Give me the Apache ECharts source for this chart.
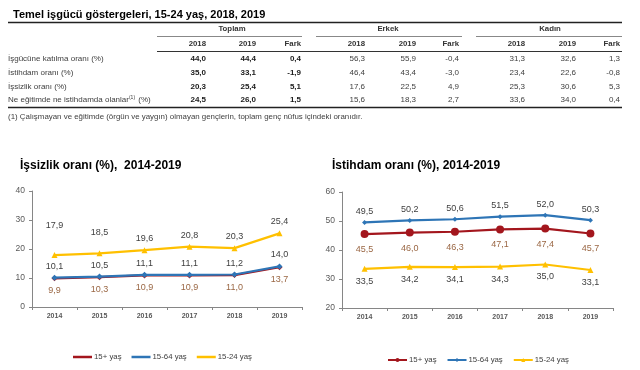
<!DOCTYPE html>
<html>
<head>
<meta charset="utf-8">
<script src="https://cdn.jsdelivr.net/npm/echarts@6/dist/echarts.min.js"></script>
<style>
html,body{margin:0;padding:0;background:#fff;}
#main{width:640px;height:370px;}
</style>
</head>
<body>
<div id="main"></div>
<script>
// ---- Table data ----
var tableTitle = 'Temel işgücü göstergeleri, 15-24 yaş, 2018, 2019';
var groupHeaders = ['Toplam', 'Erkek', 'Kadın'];
var colHeaders = ['2018', '2019', 'Fark'];
var rowLabels = ['İşgücüne katılma oranı (%)', 'İstihdam oranı (%)', 'İşsizlik oranı (%)', 'Ne eğitimde ne istihdamda olanlar{sup|(1)} (%)'];
var toplam2018 = [44.0, 35.0, 20.3, 24.5];
var toplam2019 = [44.4, 33.1, 25.4, 26.0];
var toplamFark = [0.4, -1.9, 5.1, 1.5];
var erkek2018 = [56.3, 46.4, 17.6, 15.6];
var erkek2019 = [55.9, 43.4, 22.5, 18.3];
var erkekFark = [-0.4, -3.0, 4.9, 2.7];
var kadin2018 = [31.3, 23.4, 25.3, 33.6];
var kadin2019 = [32.6, 22.6, 30.6, 34.0];
var kadinFark = [1.3, -0.8, 5.3, 0.4];
var footnote = '(1) Çalışmayan ve eğitimde (örgün ve yaygın) olmayan gençlerin, toplam genç nüfus içindeki oranıdır.';

// ---- Chart data ----
var years = ['2014', '2015', '2016', '2017', '2018', '2019'];
var seriesNames = ['15+ yaş', '15-64 yaş', '15-24 yaş'];
var unemp15plus = [9.9, 10.3, 10.9, 10.9, 11.0, 13.7];
var unemp1564 = [10.1, 10.5, 11.1, 11.1, 11.2, 14.0];
var unemp1524 = [17.9, 18.5, 19.6, 20.8, 20.3, 25.4];
var emp15plus = [45.5, 46.0, 46.3, 47.1, 47.4, 45.7];
var emp1564 = [49.5, 50.2, 50.6, 51.5, 52.0, 50.3];
var emp1524 = [33.5, 34.2, 34.1, 34.3, 35.0, 33.1];
var leftTitle = 'İşsizlik oranı (%),  2014-2019';
var rightTitle = 'İstihdam oranı (%), 2014-2019';

// ---- layout / style ----
var FONT = '"Liberation Sans", Arial, sans-serif';
var RED = '#a3161d', BLUE = '#2e75b6', YELLOW = '#ffc000';
var LBL = '#404040', LBL_RED = '#9a6744';
var yellowLeftDist = [22, 13, 4, 4, 4, 4];

function fmt(v) { return v.toFixed(1).replace('.', ','); }

var g = [];
function txt(s, x, y, opt) {
  opt = opt || {};
  g.push({
    type: 'text', silent: true,
    style: {
      text: s, x: x, y: y,
      fill: opt.fill || LBL,
      fontSize: opt.size || 8,
      fontWeight: opt.bold ? 'bold' : 'normal',
      fontFamily: FONT,
      textAlign: opt.align || 'left',
      textVerticalAlign: 'middle',
      rich: opt.rich
    }
  });
}
function line(x1, y1, x2, y2, color, w) {
  g.push({ type: 'line', silent: true, shape: { x1: x1, y1: y1, x2: x2, y2: y2 }, style: { stroke: color, lineWidth: w } });
}

// table lines
line(8, 22.5, 622, 22.5, '#222', 1.5);
line(157, 36.5, 302, 36.5, '#888', 1);
line(316, 36.5, 462, 36.5, '#888', 1);
line(476, 36.5, 622, 36.5, '#888', 1);
line(157, 51.5, 622, 51.5, '#333', 1);
line(8, 107.5, 622, 107.5, '#222', 1.5);

// headers
var groupCenters = [232, 388, 550];
groupHeaders.forEach(function (h, i) { txt(h, groupCenters[i], 29, { align: 'center', bold: true, fill: '#333', size: 7.8 }); });
var colRights = [206, 256, 301, 365, 416, 459, 525, 576, 620];
colRights.forEach(function (x, i) { txt(colHeaders[i % 3], x, 44, { align: 'right', bold: true, fill: '#333', size: 7.8 }); });

var rowY = [59, 72.5, 86.5, 100];
var cols = [toplam2018, toplam2019, toplamFark, erkek2018, erkek2019, erkekFark, kadin2018, kadin2019, kadinFark];
rowLabels.forEach(function (lab, r) {
  txt(lab, 8, rowY[r], { size: 8, rich: { sup: { fontSize: 5, fontFamily: FONT, fill: LBL, verticalAlign: 'top', padding: [0, 1, 5, 0] } } });
  cols.forEach(function (arr, c) {
    txt(fmt(arr[r]), colRights[c], rowY[r], { align: 'right', bold: c < 3, fill: c < 3 ? '#1a1a1a' : LBL, size: 8 });
  });
});
txt(footnote, 8, 117, { size: 7.9 });

function mkSeries(name, data, color, symbol, size, pos, dist, gi, labColor, distArr, z) {
  return {
    name: name, type: 'line', xAxisIndex: gi, yAxisIndex: gi,
    data: data.map(function (v, i) {
      return distArr ? { value: v, label: { distance: distArr[i] } } : v;
    }),
    symbol: symbol, symbolSize: size, showAllSymbol: true,
    lineStyle: { color: color, width: 2.2 },
    itemStyle: { color: color },
    z: z,
    label: {
      show: true, position: pos, distance: dist, color: labColor,
      fontSize: 9, fontFamily: FONT,
      formatter: function (p) { return fmt(p.value); }
    },
    animation: false
  };
}

var xAxisBase = {
  type: 'category', data: years, boundaryGap: true,
  axisLine: { lineStyle: { color: '#868686', width: 1 } },
  axisTick: { show: true, length: 3, lineStyle: { color: '#868686' } },
  axisLabel: { fontSize: 7, fontWeight: 'bold', color: '#595959', fontFamily: FONT, margin: 6 },
  splitLine: { show: false }
};
var yAxisBase = {
  type: 'value', interval: 10,
  axisLine: { show: true, lineStyle: { color: '#868686', width: 1 } },
  axisTick: { show: true, length: 3, lineStyle: { color: '#868686' } },
  axisLabel: { fontSize: 8.5, color: '#595959', fontFamily: FONT, margin: 7 },
  splitLine: { show: false }
};

var chart = echarts.init(document.getElementById('main'), null, { renderer: 'canvas' });
chart.setOption({
  animation: false,
  backgroundColor: '#fff',
  textStyle: { fontFamily: FONT },
  title: [
    { text: tableTitle, left: 8, top: 4, textStyle: { fontSize: 11, fontWeight: 'bold', color: '#000', fontFamily: FONT } },
    { text: leftTitle, left: 15, top: 155, textStyle: { fontSize: 12, fontWeight: 'bold', color: '#000', fontFamily: FONT } },
    { text: rightTitle, left: 327, top: 155, textStyle: { fontSize: 12, fontWeight: 'bold', color: '#000', fontFamily: FONT } }
  ],
  grid: [
    { left: 32, top: 191, width: 270, height: 116 },
    { left: 342, top: 192, width: 271, height: 116 }
  ],
  xAxis: [
    Object.assign({ gridIndex: 0 }, xAxisBase),
    Object.assign({ gridIndex: 1 }, xAxisBase)
  ],
  yAxis: [
    Object.assign({ gridIndex: 0, min: 0, max: 40 }, yAxisBase),
    Object.assign({ gridIndex: 1, min: 20, max: 60 }, yAxisBase)
  ],
  legend: [
    {
      data: seriesNames, left: 68, top: 348, itemWidth: 19, itemHeight: 2.5, itemGap: 10, icon: 'rect',
      textStyle: { fontSize: 7.8, color: '#404040', fontFamily: FONT, padding: [0, 0, 0, -3] }
    },
    {
      data: seriesNames.map(function (n) { return 'R|' + n; }), left: 382, top: 351, itemWidth: 19, itemHeight: 5, itemGap: 10,
      formatter: function (n) { return n.split('|')[1]; },
      textStyle: { fontSize: 7.8, color: '#404040', fontFamily: FONT, padding: [0, 0, 0, -3] }
    }
  ],
  series: [
    mkSeries(seriesNames[0], unemp15plus, RED, 'diamond', 6, 'bottom', 5, 0, LBL_RED, null, 2),
    mkSeries(seriesNames[1], unemp1564, BLUE, 'diamond', 6, 'top', 4, 0, LBL, null, 3),
    mkSeries(seriesNames[2], unemp1524, YELLOW, 'triangle', 6, 'top', 4, 0, LBL, yellowLeftDist, 4),
    mkSeries('R|' + seriesNames[0], emp15plus, RED, 'circle', 8, 'bottom', 7, 1, LBL_RED, null, 2),
    mkSeries('R|' + seriesNames[1], emp1564, BLUE, 'diamond', 5, 'top', 4, 1, LBL, null, 3),
    mkSeries('R|' + seriesNames[2], emp1524, YELLOW, 'triangle', 6, 'bottom', 5, 1, LBL, null, 4)
  ],
  graphic: g
});
</script>
</body>
</html>
